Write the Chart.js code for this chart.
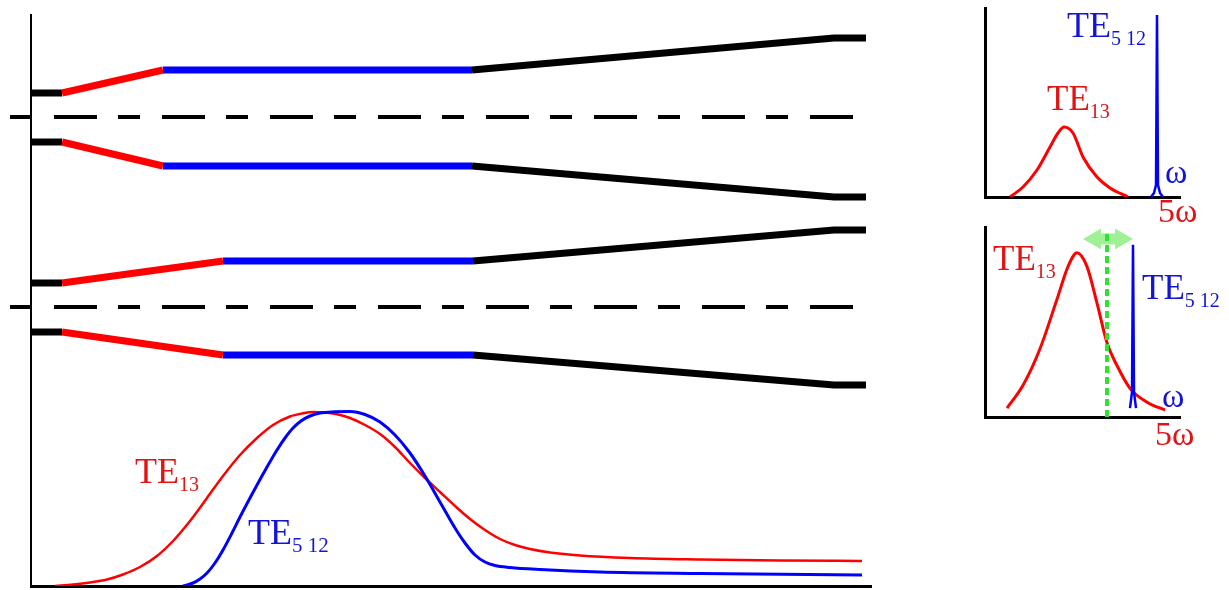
<!DOCTYPE html>
<html>
<head>
<meta charset="utf-8">
<script src="https://cdn.jsdelivr.net/npm/chart.js@4.4.0/dist/chart.umd.min.js"></script>
<style>
html, body { margin: 0; padding: 0; background: #fff; width: 1229px; height: 590px; overflow: hidden; }
canvas { position: absolute; }
#main { left: 0; top: 0; }
#specTop { left: 970px; top: 0; }
#specBottom { left: 970px; top: 215px; }
</style>
</head>
<body>
<canvas id="main" width="880" height="590"></canvas>
<canvas id="specTop" width="259" height="232"></canvas>
<canvas id="specBottom" width="259" height="245"></canvas>
<script>
// waveguide outline, main panel (x along guide, y height)
const guide1X = [0, 31, 132, 441, 803, 835]
const guide1Top = [493, 493, 516, 516, 548, 548]
const guide1Bottom = [444, 444, 420, 420, 389, 389]
const guide2X = [0, 31, 192, 442, 803, 835]
const guide2Top = [303, 303, 325, 325, 356, 356]
const guide2Bottom = [254, 254, 231, 231, 201, 201]
const axisLevels = [469, 279]
const axisSpan = [-21, 841]

// mode amplitude along the guide
const te13X = [24, 42, 59, 76, 92, 109, 126, 142, 159, 176, 192, 209, 226, 242, 259, 271, 282, 294, 306, 319,
    334, 349, 364, 379, 394, 409, 424, 439, 454, 469, 484, 499, 519, 549, 599, 669, 749, 831]
const te13Y = [0, 1.5, 3.5, 6.5, 11.5, 19, 30, 45, 65, 88, 110, 131, 148, 161, 169.5, 172.5, 174, 173.5, 171.7, 168,
    161, 152, 139, 123, 108, 94, 80, 67, 56, 47, 41, 37, 33.5, 30.5, 28, 26.5, 25.5, 25]
const te512X = [152, 162, 169, 176, 184, 192, 201, 209, 226, 236, 246, 254, 262, 270, 279, 289, 304, 319, 334, 349,
    364, 379, 394, 409, 424, 434, 444, 454, 464, 479, 509, 569, 669, 831]
const te512Y = [0, 3, 7, 13, 23, 36, 53, 69, 101, 119, 136, 148, 158, 165, 170, 173, 174.2, 174.5, 171.5, 164,
    151, 133, 110, 84, 58, 43, 31, 24, 20.5, 18.5, 16.5, 14, 12.5, 11]

// spectrum, upper right
const specTopRedX = [25, 38, 52, 65, 73, 79, 88, 98, 112, 125, 143]
const specTopRedY = [0, 10, 27, 50, 64, 70, 64, 40, 20, 9, 0]
const specTopBlueX = [166, 169, 171, 172, 173, 175, 178]
const specTopBlueY = [0, 4, 12, 182, 12, 4, 0]

// spectrum, lower right
const specBotRedX = [22, 38, 55, 72, 83, 92, 102, 112, 122, 132, 145, 162, 180]
const specBotRedY = [9, 32, 69, 119, 152, 166, 152, 115, 75, 52, 29, 15, 7]
const specBotBlueX = [145, 147, 148, 149, 151]
const specBotBlueY = [9, 25, 174, 25, 9]
const pumpX = 122
const pumpSpan = [0, 189]
const tuneRange = [98, 148]
const tuneLevel = 180

const RED = 'rgb(255, 0, 0)'
const BLUE = 'rgb(0, 0, 255)'
const TEXT_RED = 'rgb(225, 20, 20)'
const TEXT_BLUE = 'rgb(20, 20, 215)'
const ARROW = 'rgb(160, 240, 150)'
const segColors = ['#000', RED, BLUE, '#000', '#000']

const pts = (xs, ys) => xs.map((x, i) => ({ x, y: ys[i] }))

function axis(min, max, width) {
    return {
        type: 'linear', min, max,
        ticks: { display: false },
        grid: { display: false, drawTicks: false },
        border: { display: true, color: '#000', width }
    }
}

function textPlugin(items) {
    return {
        id: 'texts',
        afterDatasetsDraw(chart) {
            const { ctx, scales: { x, y } } = chart
            ctx.save()
            ctx.textAlign = 'left'
            ctx.textBaseline = 'alphabetic'
            for (const t of items) {
                const px = x.getPixelForValue(t.x)
                const py = y.getPixelForValue(t.y)
                ctx.fillStyle = t.color
                ctx.font = t.size + 'px "Liberation Serif"'
                ctx.fillText(t.text, px, py)
                if (t.sub) {
                    const w = ctx.measureText(t.text).width
                    ctx.font = t.subSize + 'px "Liberation Serif"'
                    ctx.fillText(t.sub, px + w, py + 8)
                }
            }
            ctx.restore()
        }
    }
}

function guide(xs, ys) {
    return {
        data: pts(xs, ys), showLine: true, pointRadius: 0, borderWidth: 7,
        borderColor: '#000', borderCapStyle: 'butt', borderJoinStyle: 'miter',
        segment: { borderColor: ctx => segColors[ctx.p0DataIndex] }
    }
}

function dashed(level) {
    return {
        data: pts(axisSpan, [level, level]), showLine: true, pointRadius: 0,
        borderWidth: 4, borderColor: '#000', borderDash: [22, 22, 43, 21], clip: false
    }
}

function curve(xs, ys, color, width, smooth) {
    return {
        data: pts(xs, ys), showLine: true, pointRadius: 0, borderWidth: width,
        borderColor: color, tension: 0,
        cubicInterpolationMode: smooth ? 'monotone' : 'default'
    }
}

const common = {
    responsive: false,
    animation: false,
    events: [],
    plugins: { legend: { display: false }, tooltip: { enabled: false } }
}

new Chart(document.getElementById('main'), {
    type: 'scatter',
    data: {
        datasets: [
            curve(te512X, te512Y, BLUE, 3, true),
            curve(te13X, te13Y, RED, 2.5, true),
            guide(guide1X, guide1Top),
            guide(guide1X, guide1Bottom),
            guide(guide2X, guide2Top),
            guide(guide2X, guide2Bottom),
            dashed(axisLevels[0]),
            dashed(axisLevels[1])
        ]
    },
    options: {
        ...common,
        layout: { padding: { left: 31, top: 15, right: 9, bottom: 4 } },
        scales: { x: axis(0, 840, 3), y: axis(0, 571, 2) }
    },
    plugins: [textPlugin([
        { x: 104, y: 103, text: 'TE', sub: '13', color: TEXT_RED, size: 36, subSize: 20 },
        { x: 217, y: 42, text: 'TE', sub: '5 12', color: TEXT_BLUE, size: 36, subSize: 21 }
    ])]
})

new Chart(document.getElementById('specTop'), {
    type: 'scatter',
    data: {
        datasets: [
            curve(specTopBlueX, specTopBlueY, BLUE, 2.5, false),
            curve(specTopRedX, specTopRedY, RED, 3, true)
        ]
    },
    options: {
        ...common,
        layout: { padding: { left: 15, top: 8, right: 49, bottom: 35 } },
        scales: { x: axis(0, 195, 3), y: axis(0, 189, 3) }
    },
    plugins: [textPlugin([
        { x: 82, y: 160, text: 'TE', sub: '5 12', color: TEXT_BLUE, size: 36, subSize: 20 },
        { x: 62, y: 87, text: 'TE', sub: '13', color: TEXT_RED, size: 35, subSize: 20 },
        { x: 180, y: 14, text: 'ω', color: TEXT_BLUE, size: 34 },
        { x: 173, y: -25, text: '5ω', color: TEXT_RED, size: 34 }
    ])]
})

new Chart(document.getElementById('specBottom'), {
    type: 'scatter',
    data: {
        datasets: [
            { data: pts([pumpX, pumpX], pumpSpan), showLine: true, pointRadius: 0, borderWidth: 4,
              borderColor: 'rgb(50, 225, 50)', borderDash: [7, 4], borderCapStyle: 'butt' },
            { data: pts([tuneRange[0] + 12, tuneRange[1] - 12], [tuneLevel, tuneLevel]), showLine: false,
              pointStyle: 'triangle', pointRadius: 12, pointRotation: [270, 90],
              pointBackgroundColor: ARROW, pointBorderWidth: 0 },
            curve([tuneRange[0] + 12, tuneRange[1] - 12], [tuneLevel, tuneLevel], ARROW, 11, false),
            curve(specBotBlueX, specBotBlueY, BLUE, 2.5, false),
            curve(specBotRedX, specBotRedY, RED, 3, true)
        ]
    },
    options: {
        ...common,
        layout: { padding: { left: 15, top: 10, right: 49, bottom: 43 } },
        scales: { x: axis(0, 195, 3), y: axis(0, 192, 3) }
    },
    plugins: [textPlugin([
        { x: 8, y: 149, text: 'TE', sub: '13', color: TEXT_RED, size: 35, subSize: 20 },
        { x: 157, y: 119, text: 'TE', sub: '5 12', color: TEXT_BLUE, size: 35, subSize: 20 },
        { x: 177, y: 10, text: 'ω', color: TEXT_BLUE, size: 34 },
        { x: 170, y: -28, text: '5ω', color: TEXT_RED, size: 34 }
    ])]
})
</script>
</body>
</html>
